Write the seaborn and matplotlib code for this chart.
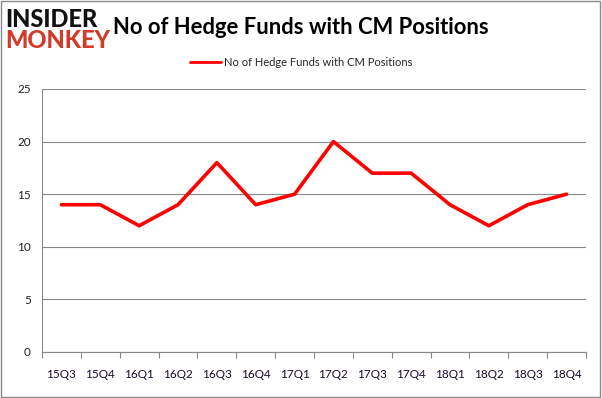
import matplotlib
matplotlib.use("Agg")
import matplotlib.pyplot as plt
import seaborn as sns
import pandas as pd
from matplotlib.lines import Line2D

quarters = ["15Q3", "15Q4", "16Q1", "16Q2", "16Q3", "16Q4", "17Q1", "17Q2",
            "17Q3", "17Q4", "18Q1", "18Q2", "18Q3", "18Q4"]
funds = [14, 14, 12, 14, 18, 14, 15, 20, 17, 17, 14, 12, 14, 15]
yticks = [0, 5, 10, 15, 20, 25]

df = pd.DataFrame({"quarter": quarters, "funds": funds, "pos": range(len(quarters))})

sns.set_style("white")
plt.rcParams['font.family'] = ['Lato', 'DejaVu Sans']

fig = plt.figure(figsize=(6.02, 3.98), dpi=100)
ax = fig.add_axes([0.0698, 0.1156, 0.9036, 0.6608])

sns.lineplot(data=df, x="pos", y="funds", ax=ax, color="#ff0000", linewidth=2.6, legend=False)

ax.set_xlim(-0.5, len(quarters) - 0.5)
ax.set_ylim(0, 25)
ax.set_yticks(yticks)
ax.set_yticklabels([str(v) for v in yticks], fontsize=8.5, color="#222222")
ax.set_xticks(range(len(quarters)))
ax.set_xticklabels(quarters, fontsize=8.5, color="#1a0a2a")
ax.tick_params(axis="x", which="major", length=0, pad=12)
ax.tick_params(axis="y", length=0, pad=8)
ax.set_xticks([i - 0.5 for i in range(len(quarters) + 1)], minor=True)
ax.tick_params(axis="x", which="minor", bottom=True, length=4, width=0.8,
               color="#888888", direction="out")
ax.set_xlabel("")
ax.set_ylabel("")
ax.grid(axis="y", color="#888888", linewidth=0.8)
ax.set_axisbelow(True)
for s in ["top", "right"]:
    ax.spines[s].set_visible(False)
ax.spines["left"].set_color("#888888")
ax.spines["bottom"].set_color("#888888")

fig.text(0.5, 0.932, "No of Hedge Funds with CM Positions", ha="center", va="center",
         fontsize=15.8, fontweight="bold", color="black")
fig.text(0.008, 0.952, "INSIDER", ha="left", va="center", fontsize=17,
         fontweight="black", color="#111111")
fig.text(0.008, 0.898, "MONKEY", ha="left", va="center", fontsize=17,
         fontweight="black", color="#d23a2a")

handle = Line2D([], [], color="#ff0000", linewidth=2)
fig.legend([handle], ["No of Hedge Funds with CM Positions"], loc="center",
           bbox_to_anchor=(0.5, 0.843), frameon=False, fontsize=8,
           handlelength=2.8, handletextpad=0.3)

fig.patches.append(matplotlib.patches.Rectangle((0.002, 0.003), 0.995, 0.994,
                   transform=fig.transFigure, fill=False, edgecolor="#888888", linewidth=1))

fig.savefig("out.png", dpi=100)
